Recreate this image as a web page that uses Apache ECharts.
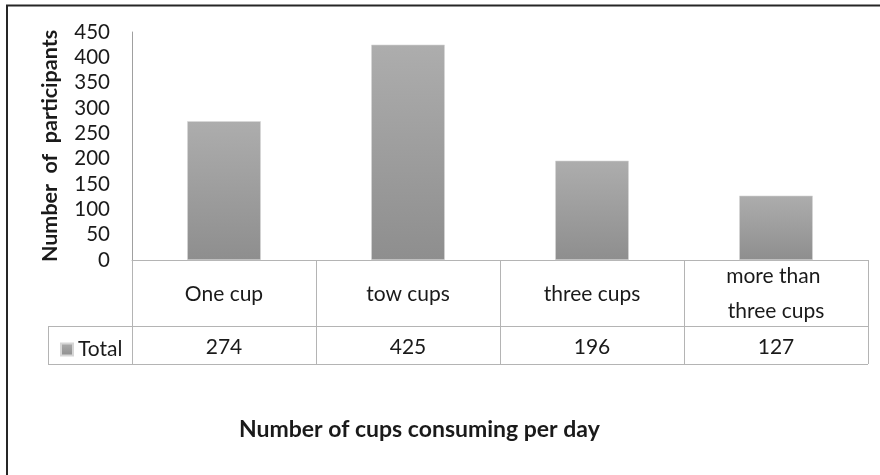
<!DOCTYPE html>
<html>
<head>
<meta charset="utf-8">
<script src="https://cdn.jsdelivr.net/npm/echarts@6/dist/echarts.min.js"></script>
<style>
  html, body { margin: 0; padding: 0; background: #fff; }
  #chart { width: 880px; height: 475px; }
</style>
</head>
<body>
<div id="chart"></div>
<script>
// Cups of coffee per day vs. number of participants
const categories = ['One cup', 'tow cups', 'three cups', 'more than three cups'];
const totals = [274, 425, 196, 127];
const seriesName = 'Total';
const yTicks = { min: 0, max: 450, step: 50 };

const FONT = 'Lato, "Open Sans", sans-serif';
const GRID = '#b4b4b4';
const TEXT = '#1a1a1a';

const chart = echarts.init(document.getElementById('chart'), null, { renderer: 'canvas' });

chart.setOption({
  animation: false,
  backgroundColor: '#fff',
  textStyle: { fontFamily: FONT },
  title: {
    text: 'Number of cups consuming per day',
    left: 234,
    top: 413,
    textStyle: { fontFamily: FONT, fontSize: 23, fontWeight: 'bold', color: TEXT }
  },
  legend: {
    data: [seriesName],
    left: 55,
    top: 334,
    icon: 'rect',
    itemWidth: 12,
    itemHeight: 12,
    itemGap: 6,
    textStyle: { fontFamily: FONT, fontSize: 21, color: TEXT, padding: [0, 0, 0, 0] }
  },
  grid: { left: 132, right: 12, top: 32, bottom: 215, containLabel: false },
  xAxis: [
    {
      type: 'category',
      data: categories,
      boundaryGap: true,
      axisLine: { show: true, lineStyle: { color: GRID, width: 1 } },
      axisTick: { show: true, alignWithLabel: false, length: 104, lineStyle: { color: GRID, width: 1 } },
      axisLabel: {
        interval: 0,
        margin: 34,
        verticalAlign: 'middle',
        fontFamily: FONT,
        fontSize: 21,
        lineHeight: 35,
        color: TEXT,
        width: 140,
        overflow: 'break'
      },
      splitLine: { show: false }
    },
    {
      type: 'category',
      data: categories,
      position: 'bottom',
      axisLine: { show: false },
      axisTick: { show: false },
      axisLabel: {
        interval: 0,
        margin: 87,
        verticalAlign: 'middle',
        fontFamily: FONT,
        fontSize: 21,
        color: TEXT,
        formatter: (v, i) => String(totals[i])
      },
      splitLine: { show: false }
    }
  ],
  yAxis: {
    type: 'value',
    min: yTicks.min,
    max: yTicks.max,
    interval: yTicks.step,
    name: 'Number  of  participants',
    nameLocation: 'middle',
    nameGap: 71,
    nameTextStyle: { fontFamily: FONT, fontSize: 21.5, fontWeight: 'bold', color: TEXT },
    axisLine: { show: true, lineStyle: { color: '#a0a0a0', width: 1 } },
    axisTick: { show: false },
    axisLabel: { fontFamily: FONT, fontSize: 20.5, color: TEXT, margin: 22 },
    splitLine: { show: false }
  },
  series: [
    {
      name: seriesName,
      type: 'bar',
      data: totals,
      barWidth: '40%',
      itemStyle: {
        color: new echarts.graphic.LinearGradient(0, 0, 0, 1, [
          { offset: 0, color: '#adadad' },
          { offset: 1, color: '#8e8e8e' }
        ]),
        borderColor: '#d6d6d6',
        borderWidth: 0.6
      }
    }
  ],
  graphic: [
    // outer frame (top and left edges visible)
    { type: 'rect', silent: true, shape: { x: 7, y: 5.5, width: 900, height: 500 },
      style: { fill: 'none', stroke: '#262626', lineWidth: 2 } },
    // data table rules
    { type: 'line', silent: true, shape: { x1: 48, y1: 326.5, x2: 868, y2: 326.5 },
      style: { stroke: GRID, lineWidth: 1 } },
    { type: 'line', silent: true, shape: { x1: 48, y1: 364.5, x2: 868, y2: 364.5 },
      style: { stroke: GRID, lineWidth: 1 } },
    { type: 'line', silent: true, shape: { x1: 48.5, y1: 326, x2: 48.5, y2: 365 },
      style: { stroke: GRID, lineWidth: 1 } }
  ]
});
</script>
</body>
</html>
